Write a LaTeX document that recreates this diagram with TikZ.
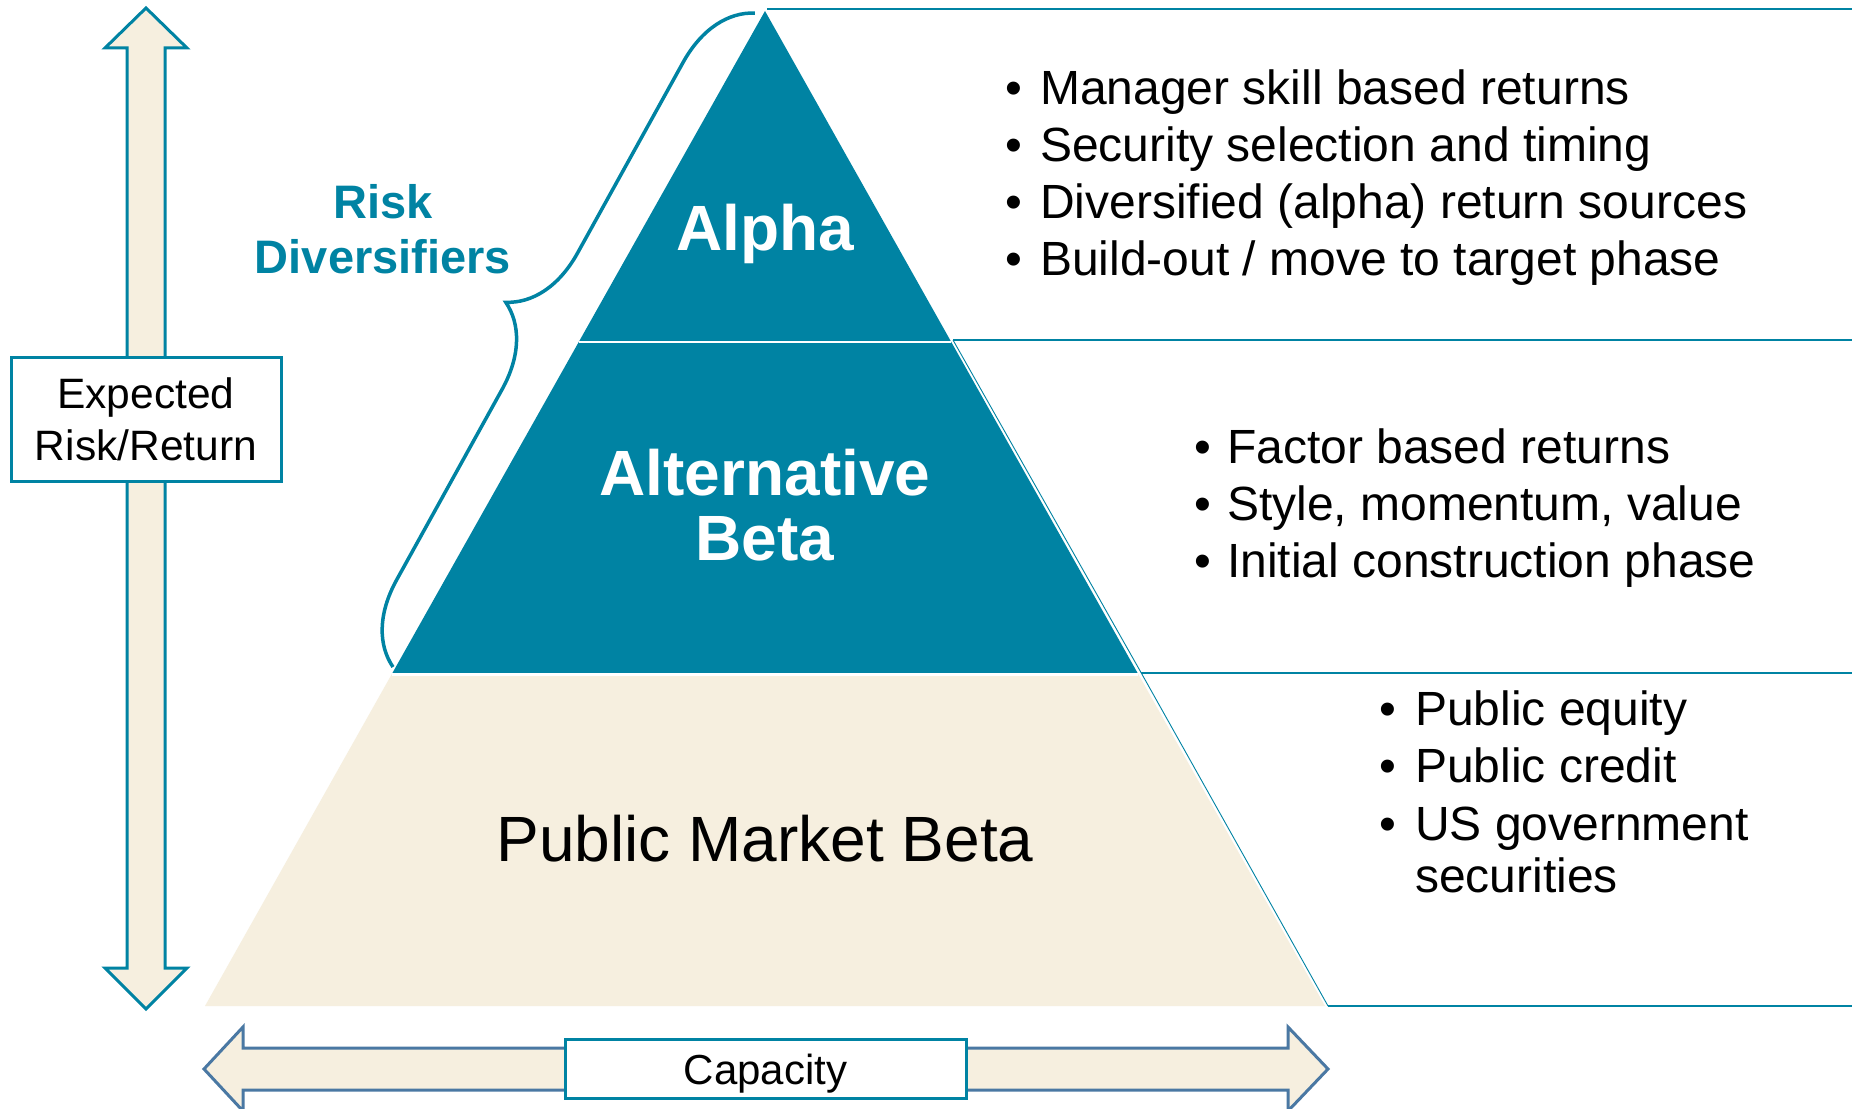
\documentclass[tikz,border=0pt]{standalone}
\usepackage{fontspec}
\setmainfont{Liberation Sans}
\usetikzlibrary{decorations.pathreplacing}
\definecolor{pyrteal}{RGB}{0,131,163}
\definecolor{pyrcream}{RGB}{246,239,223}
\definecolor{steelline}{RGB}{74,120,163}
\begin{document}
\begin{tikzpicture}[x=1pt,y=-1pt,
  txt/.style={inner sep=0pt, anchor=base},
  bodytxt/.style={inner sep=0pt, anchor=base west, font=\fontsize{48}{57}\selectfont},
  bulletmark/.style={inner sep=0pt, anchor=base west, font=\fontsize{48}{57}\selectfont},
  tiertxt/.style={txt, text=white, font=\fontsize{64}{66}\selectfont\bfseries},
  framebox/.style={draw=pyrteal, line width=3pt, fill=white, inner sep=0pt},
  rule/.style={draw=pyrteal, line width=2pt},
  thinrule/.style={draw=pyrteal, line width=0.9pt}]

\useasboundingbox (0,0) rectangle (1852,1108);
\clip (0,0) rectangle (1852,1108);
\fill[white] (0,0) rectangle (1852,1108);

% outlined panels to the right of the pyramid
\draw[pyrteal, line width=1.6pt] (767,9) -- (1852,9);
\draw[rule] (953,340) -- (1852,340);
\draw[rule] (1141,672.5) -- (1852,672.5);
\draw[rule] (1328,1006) -- (1852,1006);
\draw[thinrule] (953,340) -- (1141,672.5) -- (1328,1006);

% pyramid tiers
\fill[pyrteal] (765,11) -- (950.7,341) -- (579.3,341) -- cycle;
\fill[pyrteal] (579.3,341) -- (950.7,341) -- (1137.6,673) -- (392.4,673) -- cycle;
\fill[pyrcream] (392.4,673) -- (1137.6,673) -- (1325,1006) -- (205,1006) -- cycle;
\draw[white, line width=2pt] (579.3,342) -- (950.7,342);
\draw[white, line width=2.2pt] (392.4,674.5) -- (1137.6,674.5);

% brace grouping the two upper tiers
\draw[pyrteal, line width=3.5pt, decorate, decoration={brace, amplitude=78pt}]
  (393,667) -- (755,13);

% vertical double arrow
\draw[pyrteal, line width=3pt, fill=pyrcream, miter limit=4]
  (146,8) -- (187,48) -- (165,48) -- (165,968) -- (187,968) -- (146,1009)
  -- (105,968) -- (127,968) -- (127,48) -- (105,48) -- cycle;

% horizontal double arrow
\draw[steelline, line width=3pt, fill=pyrcream]
  (204,1069) -- (243,1027) -- (243,1048) -- (1288,1048) -- (1288,1027) -- (1328,1069)
  -- (1288,1111) -- (1288,1090) -- (243,1090) -- (243,1111) -- cycle;

% axis labels
\node[framebox, minimum width=270pt, minimum height=124pt] (riskbox) at (146,419) {};
\node[txt, font=\fontsize{42.5}{50}\selectfont] (exp1) at (146,408) {Expected};
\node[txt, font=\fontsize{42.5}{50}\selectfont] (exp2) at (146,460) {Risk/Return};

\node[framebox, minimum width=401pt, minimum height=59pt] (capbox) at (765.5,1068.5) {};
\node[txt, font=\fontsize{42}{50}\selectfont] (cap) at (765.5,1084) {Capacity};

% brace label
\node[txt, text=pyrteal, font=\fontsize{47}{55}\selectfont\bfseries] (rd1) at (383,218) {Risk};
\node[txt, text=pyrteal, font=\fontsize{47}{55}\selectfont\bfseries] (rd2) at (383,273) {Diversifiers};

% tier names
\node[tiertxt] (alpha) at (765,250) {Alpha};
\node[tiertxt] (alt1) at (765,495) {Alternative};
\node[tiertxt] (alt2) at (765,560) {Beta};
\node[txt, font=\fontsize{64}{70}\selectfont] (pmb) at (765,861) {Public Market Beta};

% bullet lists
\foreach \y/\t [count=\i] in {104/{Manager skill based returns},
                              161/{Security selection and timing},
                              218/{Diversified (alpha) return sources},
                              275/{Build-out / move to target phase}} {
  \node[bulletmark] (ab\i) at (1005,\y) {•};
  \node[bodytxt] (at\i) at (1040,\y) {\t};
}
\foreach \y/\t [count=\i] in {463/{Factor based returns},
                              520/{Style, momentum, value},
                              577/{Initial construction phase}} {
  \node[bulletmark] (bb\i) at (1194,\y) {•};
  \node[bodytxt] (bt\i) at (1227,\y) {\t};
}
\foreach \y/\t [count=\i] in {725/{Public equity},
                              782/{Public credit},
                              840/{US government}} {
  \node[bulletmark] (cb\i) at (1379,\y) {•};
  \node[bodytxt] (ct\i) at (1415,\y) {\t};
}
\node[bodytxt] (ct4) at (1415,892) {securities};

\end{tikzpicture}
\end{document}
